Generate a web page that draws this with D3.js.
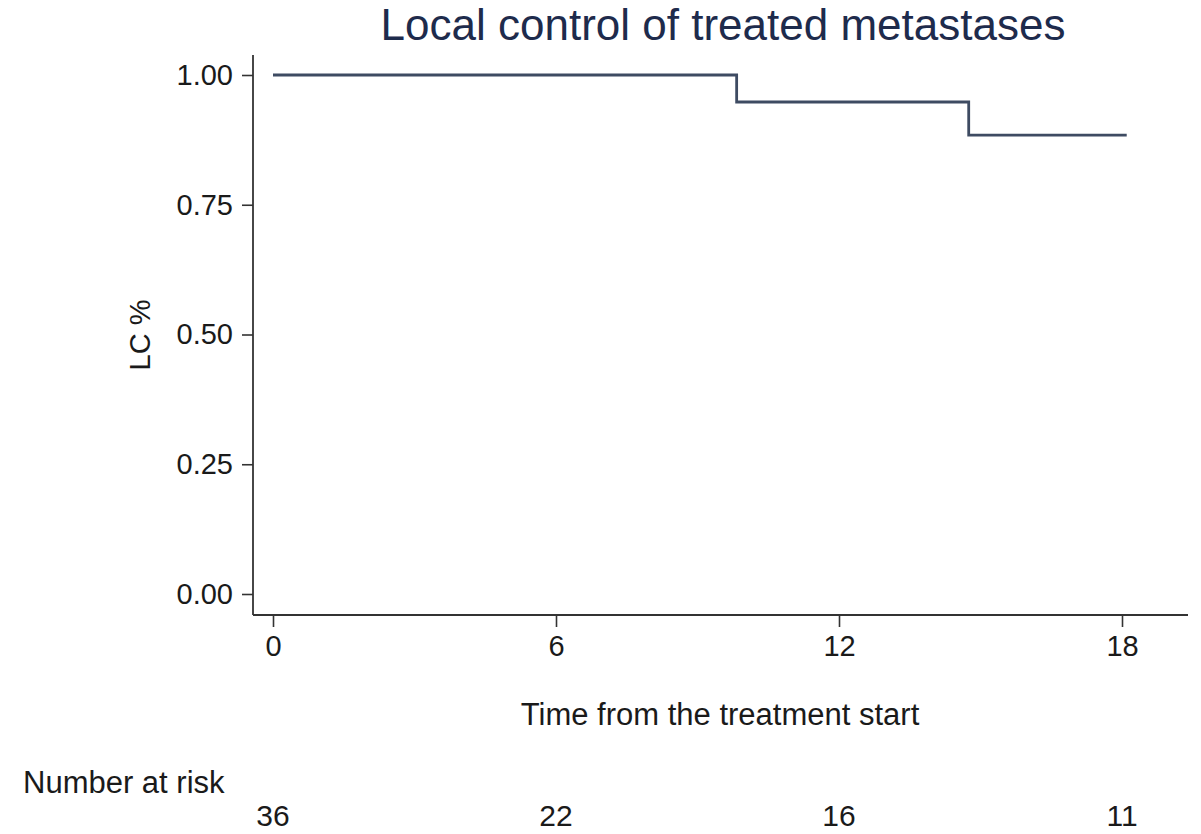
<!DOCTYPE html>
<html>
<head>
<meta charset="utf-8">
<script src="https://cdn.jsdelivr.net/npm/d3@7"></script>
<style>
  html, body { margin: 0; padding: 0; background: #fff; }
  svg { display: block; font-family: "Liberation Sans", Arial, Helvetica, sans-serif; }
</style>
</head>
<body>
<svg id="chart" width="1201" height="834"></svg>
<script>
// Kaplan-Meier estimate of local control
const stepTimes = [0, 9.83, 14.75];        // start and event times (months)
const survival = [1.00, 0.948, 0.884];     // LC estimate after each step
const followUpEnd = 18.1;                  // last observed time

// Axis ticks
const xTicks = [0, 6, 12, 18];
const yTicks = [0, 0.25, 0.5, 0.75, 1];

// Number-at-risk table
const riskTimes = [0, 6, 12, 18];
const riskCounts = [36, 22, 16, 11];

const svg = d3.select("#chart");

// plot region (axis lines run along its left and bottom edges)
const region = { left: 253, right: 1188, top: 55, bottom: 615 };

const x = d3.scaleLinear().domain([0, 18]).range([273, 1122]);
const y = d3.scaleLinear().domain([0, 1]).range([594, 75]);

const axisColor = "#333";
const textColor = "#1a1a1a";

// Title
svg.append("text")
  .attr("x", 723).attr("y", 40)
  .attr("text-anchor", "middle")
  .attr("font-size", 44)
  .attr("fill", "#1e2b4c")
  .text("Local control of treated metastases");

// Y axis
const yAxis = svg.append("g")
  .attr("transform", `translate(${region.left},0)`)
  .call(d3.axisLeft(y).tickValues(yTicks).tickFormat(d3.format(".2f")).tickSize(11).tickPadding(9));
yAxis.select(".domain").remove();
yAxis.append("line")
  .attr("x1", 0).attr("x2", 0)
  .attr("y1", region.top).attr("y2", region.bottom)
  .attr("stroke", axisColor).attr("stroke-width", 1.8);
yAxis.selectAll(".tick line").attr("stroke", axisColor).attr("stroke-width", 1.6);
yAxis.selectAll(".tick text")
  .attr("font-size", 29).attr("fill", textColor)
  .attr("font-family", "'Liberation Sans', Arial, Helvetica, sans-serif");

// X axis
const xAxis = svg.append("g")
  .attr("transform", `translate(0,${region.bottom})`)
  .call(d3.axisBottom(x).tickValues(xTicks).tickFormat(d3.format("d")).tickSize(12).tickPadding(8));
xAxis.select(".domain").remove();
xAxis.append("line")
  .attr("x1", region.left).attr("x2", region.right)
  .attr("y1", 0).attr("y2", 0)
  .attr("stroke", axisColor).attr("stroke-width", 1.8);
xAxis.selectAll(".tick line").attr("stroke", axisColor).attr("stroke-width", 1.6);
xAxis.selectAll(".tick text")
  .attr("font-size", 29).attr("fill", textColor)
  .attr("font-family", "'Liberation Sans', Arial, Helvetica, sans-serif");

// Axis titles
svg.append("text")
  .attr("transform", `translate(150,335) rotate(-90)`)
  .attr("text-anchor", "middle")
  .attr("font-size", 29)
  .attr("fill", textColor)
  .text("LC %");

svg.append("text")
  .attr("x", 720).attr("y", 725)
  .attr("text-anchor", "middle")
  .attr("font-size", 31)
  .attr("fill", textColor)
  .text("Time from the treatment start");

// Survival step curve
const curve = stepTimes.map((t, i) => ({ t, s: survival[i] }));
curve.push({ t: followUpEnd, s: survival[survival.length - 1] });

const line = d3.line()
  .x(d => x(d.t))
  .y(d => y(d.s))
  .curve(d3.curveStepAfter);

svg.append("path")
  .datum(curve)
  .attr("d", line)
  .attr("fill", "none")
  .attr("stroke", "#3e4b62")
  .attr("stroke-width", 2.8);

// Number at risk
svg.append("text")
  .attr("x", 23).attr("y", 793)
  .attr("font-size", 31)
  .attr("fill", textColor)
  .text("Number at risk");

svg.append("g").selectAll("text")
  .data(riskTimes)
  .join("text")
  .attr("x", d => x(d))
  .attr("y", 826)
  .attr("text-anchor", "middle")
  .attr("font-size", 30)
  .attr("fill", textColor)
  .text((d, i) => riskCounts[i]);
</script>
</body>
</html>
